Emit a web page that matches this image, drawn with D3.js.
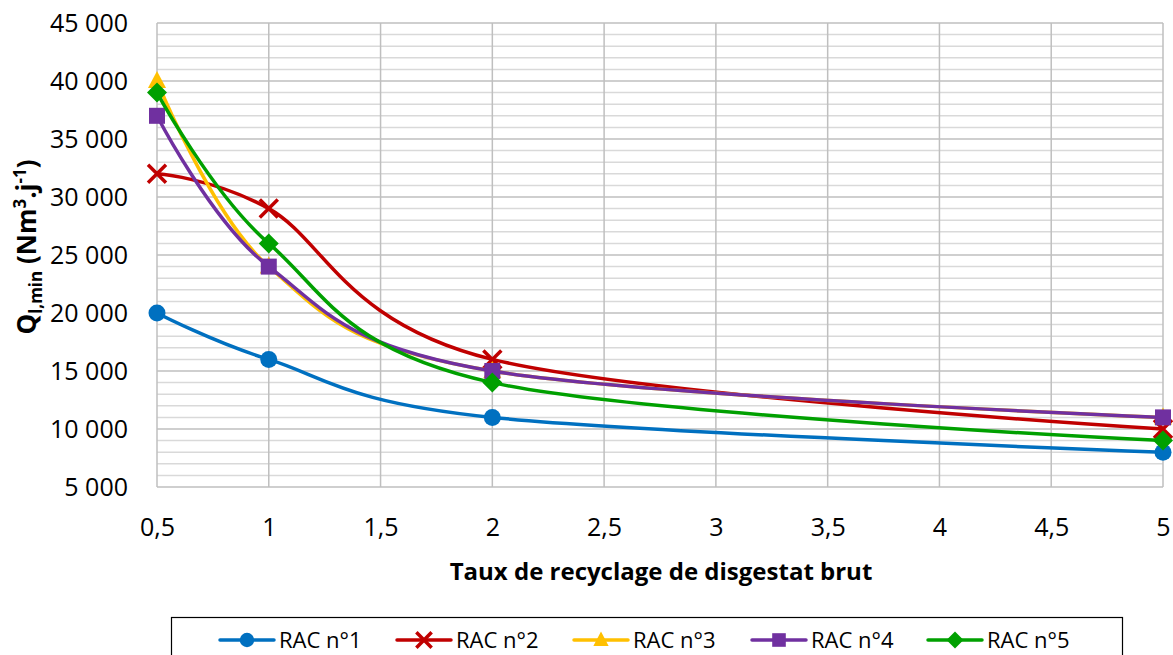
<!DOCTYPE html>
<html>
<head>
<meta charset="utf-8">
<script src="https://cdn.jsdelivr.net/npm/d3@7"></script>
<style>
  html, body { margin: 0; padding: 0; background: #fff; }
  svg { display: block; font-family: "Open Sans", "Noto Sans", sans-serif; }
</style>
</head>
<body>
<svg id="chart" width="1173" height="655"></svg>
<script>
// Recycling rates (x) and minimum flow per RAC configuration
const rates = [0.5, 1, 2, 5];
const rac1 = [20000, 16000, 11000, 8000];
const rac2 = [32000, 29000, 16000, 10000];
const rac3 = [40000, 24000, 15000, 11000];
const rac4 = [37000, 24000, 15000, 11000];
const rac5 = [39000, 26000, 14000, 9000];

const seriesNames = ["RAC n°1", "RAC n°2", "RAC n°3", "RAC n°4", "RAC n°5"];
const seriesColors = ["#0070C0", "#C00000", "#FFC000", "#7030A0", "#00A000"];
const seriesMarkers = ["circle", "cross", "triangle", "square", "diamond"];
const seriesValues = [rac1, rac2, rac3, rac4, rac5];

const xTicks = [0.5, 1, 1.5, 2, 2.5, 3, 3.5, 4, 4.5, 5];
const yTicks = [5000, 10000, 15000, 20000, 25000, 30000, 35000, 40000, 45000];
const yMinorTicks = d3.range(5000, 45001, 1000);

const svg = d3.select("#chart");
const plotLeft = 157, plotRight = 1163, plotTop = 23, plotBottom = 487;

const x = d3.scaleLinear().domain([0.5, 5]).range([plotLeft, plotRight]);
const y = d3.scaleLinear().domain([5000, 45000]).range([plotBottom, plotTop]);

const fmt = v => d3.format(",")(v).replace(/,/g, " ");
const fmtX = v => String(v).replace(".", ",");

// Gridlines: minor horizontal, then major horizontal and vertical
const grid = svg.append("g");
grid.selectAll("line.minor").data(yMinorTicks.filter(v => v % 5000 !== 0)).join("line")
  .attr("class", "minor")
  .attr("x1", plotLeft).attr("x2", plotRight)
  .attr("y1", d => y(d)).attr("y2", d => y(d))
  .attr("stroke", "#d9d9d9").attr("stroke-width", 1.5);
grid.selectAll("line.hmaj").data(yTicks).join("line")
  .attr("class", "hmaj")
  .attr("x1", plotLeft).attr("x2", plotRight)
  .attr("y1", d => y(d)).attr("y2", d => y(d))
  .attr("stroke", "#bfbfbf").attr("stroke-width", 1.5);
grid.selectAll("line.vmaj").data(xTicks).join("line")
  .attr("class", "vmaj")
  .attr("x1", d => x(d)).attr("x2", d => x(d))
  .attr("y1", plotTop).attr("y2", plotBottom)
  .attr("stroke", "#bfbfbf").attr("stroke-width", 1.5);

// Axis labels
const yAxis = d3.axisLeft(y).tickValues(yTicks).tickFormat(fmt).tickSize(0).tickPadding(0);
svg.append("g").attr("transform", `translate(${plotLeft - 29},0)`).call(yAxis)
  .call(g => g.select(".domain").remove())
  .selectAll("text").attr("font-size", 25).attr("fill", "#000")
  .attr("font-family", "'Open Sans', sans-serif").attr("dy", "0.35em");

const xAxis = d3.axisBottom(x).tickValues(xTicks).tickFormat(fmtX).tickSize(0).tickPadding(0);
svg.append("g").attr("transform", `translate(0,${plotBottom + 40})`).call(xAxis)
  .call(g => g.select(".domain").remove())
  .selectAll("text").attr("font-size", 25).attr("fill", "#000")
  .attr("font-family", "'Open Sans', sans-serif").attr("dy", "0.35em");

// Axis titles
svg.append("text")
  .attr("x", 661).attr("y", 572).attr("dy", "0.35em")
  .attr("text-anchor", "middle").attr("font-weight", "bold").attr("font-size", 24)
  .text("Taux de recyclage de disgestat brut");

const yt = svg.append("text")
  .attr("transform", "translate(27,247) rotate(-90)")
  .attr("text-anchor", "middle").attr("dy", "0.35em")
  .attr("font-weight", "bold").attr("font-size", 26);
yt.append("tspan").text("Q");
yt.append("tspan").attr("font-size", 17).attr("dy", 6).text("l,min");
yt.append("tspan").attr("dy", -6).text(" (Nm");
yt.append("tspan").attr("font-size", 17).attr("dy", -10).text("3");
yt.append("tspan").attr("dy", 10).text(".j");
yt.append("tspan").attr("font-size", 17).attr("dy", -10).text("-1");
yt.append("tspan").attr("dy", 10).text(")");

// Marker drawing
function drawMarker(g, type, color, cx, cy, scale = 1) {
  const s = scale;
  if (type === "circle") {
    g.append("circle").attr("cx", cx).attr("cy", cy).attr("r", 8.5 * s).attr("fill", color);
  } else if (type === "square") {
    g.append("rect").attr("x", cx - 8 * s).attr("y", cy - 8 * s)
      .attr("width", 16 * s).attr("height", 16 * s).attr("fill", color);
  } else if (type === "diamond") {
    g.append("path").attr("d", `M${cx},${cy - 10 * s}L${cx + 10 * s},${cy}L${cx},${cy + 10 * s}L${cx - 10 * s},${cy}Z`)
      .attr("fill", color);
  } else if (type === "triangle") {
    g.append("path").attr("d", `M${cx},${cy - 10 * s}L${cx + 9 * s},${cy + 7 * s}L${cx - 9 * s},${cy + 7 * s}Z`)
      .attr("fill", color);
  } else if (type === "cross") {
    const r = 9 * s;
    g.append("path").attr("d", `M${cx - r},${cy - r}L${cx + r},${cy + r}M${cx + r},${cy - r}L${cx - r},${cy + r}`)
      .attr("stroke", color).attr("stroke-width", 3.5).attr("fill", "none");
  }
}

// Series lines and markers
const line = d3.line().x(d => x(d[0])).y(d => y(d[1])).curve(d3.curveCatmullRom.alpha(0));
const plot = svg.append("g");
seriesValues.forEach((vals, i) => {
  const pts = rates.map((r, j) => [r, vals[j]]);
  const g = plot.append("g");
  g.append("path").datum(pts).attr("d", line)
    .attr("fill", "none").attr("stroke", seriesColors[i]).attr("stroke-width", 3.5)
    .attr("stroke-linejoin", "round");
  pts.forEach(p => drawMarker(g, seriesMarkers[i], seriesColors[i], x(p[0]), y(p[1])));
});

// Legend
const legend = svg.append("g");
legend.append("rect").attr("x", 171.5).attr("y", 617.5).attr("width", 951).attr("height", 60)
  .attr("fill", "#fff").attr("stroke", "#000").attr("stroke-width", 1.2);
const legendX = [220, 397, 574, 752, 928];
seriesNames.forEach((name, i) => {
  const lx = legendX[i], ly = 640;
  legend.append("line").attr("x1", lx).attr("x2", lx + 54).attr("y1", ly).attr("y2", ly)
    .attr("stroke", seriesColors[i]).attr("stroke-width", 3.5).attr("stroke-linecap", "round");
  drawMarker(legend, seriesMarkers[i], seriesColors[i], lx + 27, ly, 0.85);
  legend.append("text").attr("x", lx + 59).attr("y", ly).attr("dy", "0.35em")
    .attr("font-size", 22).attr("fill", "#000").text(name);
});
</script>
</body>
</html>
